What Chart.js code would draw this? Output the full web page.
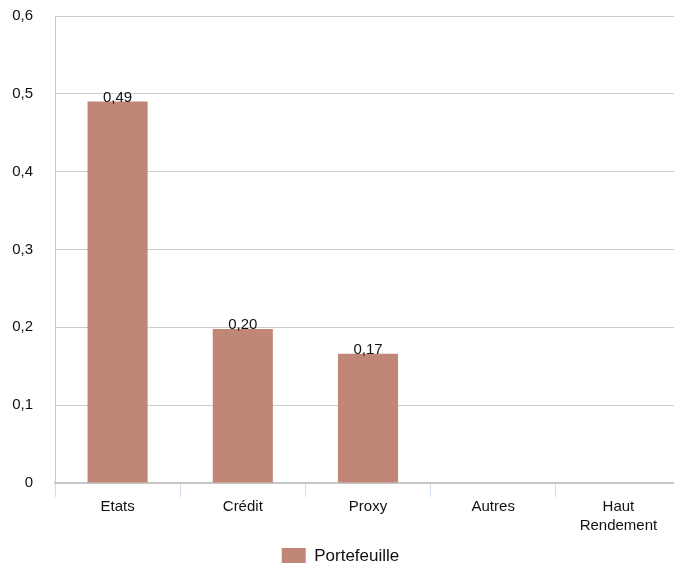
<!DOCTYPE html>
<html>
<head>
<meta charset="utf-8">
<script src="https://cdn.jsdelivr.net/npm/chart.js@4"></script>
<style>
  html, body { margin: 0; padding: 0; background: #fff; overflow: hidden; }
  canvas { position: absolute; left: 0; top: -15px; }
</style>
</head>
<body>
<canvas id="chart" width="681" height="590"></canvas>
<script>
// data
const categories = ['Etats', 'Crédit', 'Proxy', 'Autres', ['Haut', 'Rendement']];
const portefeuille = [0.49, 0.198, 0.166, 0, 0];
const seriesName = 'Portefeuille';
const yMax = 0.6;
const yStep = 0.1;

const FONT = '"Liberation Sans", Arial, Helvetica, sans-serif';
const BAR = '#c08777';

// helper: french decimal comma
function fr(v, digits) {
  if (v === 0) return '0';
  return v.toFixed(digits).replace('.', ',');
}

// value labels on top of each bar
const valueLabels = {
  id: 'valueLabels',
  afterDatasetsDraw(chart) {
    const ctx = chart.ctx;
    const meta = chart.getDatasetMeta(0);
    ctx.save();
    ctx.font = '15px ' + FONT;
    ctx.fillStyle = '#111';
    ctx.textAlign = 'center';
    ctx.textBaseline = 'alphabetic';
    meta.data.forEach((bar, i) => {
      const v = portefeuille[i];
      if (!v) return;
      ctx.fillText(fr(v, 2), bar.x, bar.y);
    });
    ctx.restore();
  }
};

new Chart(document.getElementById('chart'), {
  type: 'bar',
  data: {
    labels: categories,
    datasets: [{
      label: seriesName,
      data: portefeuille,
      backgroundColor: BAR,
      borderWidth: 0,
      categoryPercentage: 1,
      barPercentage: 0.48
    }]
  },
  options: {
    responsive: false,
    animation: false,
    layout: { padding: { top: 1, left: 0, right: 0, bottom: 0 } },
    plugins: {
      tooltip: { enabled: false },
      legend: {
        position: 'bottom',
        labels: {
          boxWidth: 24,
          boxHeight: 17,
          padding: 10,
          color: '#111',
          font: { family: FONT, size: 17 }
        }
      }
    },
    scales: {
      x: {
        afterFit(scale) { scale.height = 55; },
        grid: {
          drawOnChartArea: false,
          drawTicks: true,
          tickLength: 14,
          color: '#d2dcef'
        },
        border: { display: true, color: '#c6c6c6', width: 2 },
        ticks: {
          color: '#111',
          padding: 0,
          maxRotation: 0,
          autoSkip: false,
          font: { family: FONT, size: 15, lineHeight: 1.3 }
        }
      },
      y: {
        min: 0,
        max: yMax,
        afterFit(scale) { scale.width = 55; },
        grid: { color: '#cccccc', drawTicks: false },
        border: { display: true, color: '#c8c8c8', width: 1 },
        ticks: {
          stepSize: yStep,
          padding: 22,
          color: '#111',
          font: { family: FONT, size: 15 },
          callback: v => fr(v, 1)
        }
      }
    }
  },
  plugins: [valueLabels]
});
</script>
</body>
</html>
